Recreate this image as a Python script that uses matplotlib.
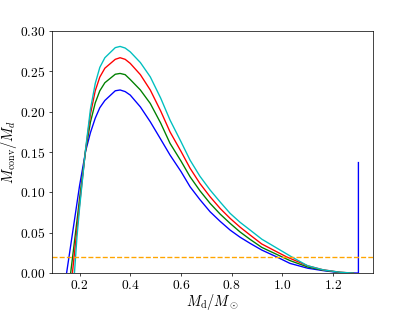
import matplotlib
matplotlib.use("Agg")
import matplotlib.pyplot as plt

plt.rcParams['font.family'] = 'serif'
plt.rcParams['font.serif'] = ['cmr10']
plt.rcParams['mathtext.fontset'] = 'cm'
plt.rcParams['axes.formatter.use_mathtext'] = True

# --- curves ---
x_blue = [0.149, 0.175, 0.20, 0.224, 0.243, 0.262, 0.28, 0.30, 0.341, 0.36, 0.38, 0.40, 0.44, 0.479,
          0.52, 0.557, 0.60, 0.636, 0.675, 0.715, 0.755, 0.794, 0.833, 0.873, 0.919, 0.978,
          1.03, 1.10, 1.161, 1.227, 1.30, 1.30]
y_blue = [0.0, 0.055, 0.108, 0.151, 0.174, 0.192, 0.205, 0.214, 0.226, 0.227, 0.225, 0.2207, 0.206, 0.1876,
          0.166, 0.1463, 0.126, 0.107, 0.091, 0.076, 0.064, 0.0533, 0.0445, 0.0368, 0.0285, 0.020,
          0.012, 0.006, 0.003, 0.0005, 0.0, 0.137]

x_green = [0.165, 0.19, 0.20, 0.224, 0.243, 0.262, 0.28, 0.30, 0.341, 0.36, 0.38, 0.40, 0.44, 0.479,
           0.52, 0.557, 0.60, 0.636, 0.675, 0.715, 0.755, 0.794, 0.833, 0.873, 0.919, 0.999,
           1.03, 1.10, 1.161, 1.227, 1.28]
y_green = [0.0, 0.065, 0.092, 0.152, 0.187, 0.211, 0.226, 0.236, 0.2465, 0.2475, 0.246, 0.240, 0.227, 0.2103,
           0.186, 0.1608, 0.139, 0.1194, 0.102, 0.0864, 0.073, 0.0616, 0.051, 0.0417, 0.0318, 0.020,
           0.0155, 0.0075, 0.0035, 0.0008, 0.0]

x_red = [0.172, 0.19, 0.20, 0.224, 0.243, 0.262, 0.28, 0.30, 0.341, 0.36, 0.38, 0.40, 0.44, 0.479,
         0.52, 0.557, 0.60, 0.636, 0.675, 0.715, 0.755, 0.794, 0.833, 0.873, 0.919, 1.017,
         1.10, 1.161, 1.227, 1.28]
y_red = [0.0, 0.055, 0.084, 0.153, 0.197, 0.226, 0.243, 0.254, 0.265, 0.267, 0.265, 0.260, 0.246, 0.227,
         0.201, 0.175, 0.151, 0.130, 0.111, 0.0946, 0.080, 0.0678, 0.057, 0.0471, 0.036, 0.020,
         0.009, 0.004, 0.001, 0.0]

x_cyan = [0.180, 0.19, 0.20, 0.224, 0.243, 0.262, 0.28, 0.30, 0.341, 0.36, 0.38, 0.40, 0.44, 0.479,
          0.52, 0.557, 0.60, 0.636, 0.675, 0.715, 0.755, 0.794, 0.833, 0.873, 0.919, 1.037,
          1.10, 1.161, 1.227, 1.28]
y_cyan = [0.0, 0.045, 0.080, 0.154, 0.203, 0.235, 0.255, 0.267, 0.2795, 0.281, 0.279, 0.2743, 0.261, 0.2433,
          0.217, 0.1897, 0.163, 0.140, 0.120, 0.103, 0.088, 0.074, 0.063, 0.0533, 0.042, 0.020,
          0.009, 0.004, 0.001, 0.0]

threshold = 0.02

fig = plt.figure(figsize=(415 / 65, 311 / 65), dpi=65)
ax = fig.add_axes([0.1253, 0.122, 0.7735, 0.778])

ax.plot(x_blue, y_blue, color='b')
ax.plot(x_green, y_green, color='g')
ax.plot(x_red, y_red, color='r')
ax.plot(x_cyan, y_cyan, color='c')
ax.axhline(threshold, color='orange', linestyle='--')

ax.set_ylim(0, 0.3)
ax.set_xticks([0.2, 0.4, 0.6, 0.8, 1.0, 1.2])
ax.tick_params(labelsize=15)
ax.set_xlabel(r'$M_{\rm d}/M_\odot$', fontsize=16, labelpad=0)
ax.set_ylabel(r'$M_{\rm conv}/M_d$', fontsize=16, labelpad=1)

fig.savefig('out.png', dpi=65)
